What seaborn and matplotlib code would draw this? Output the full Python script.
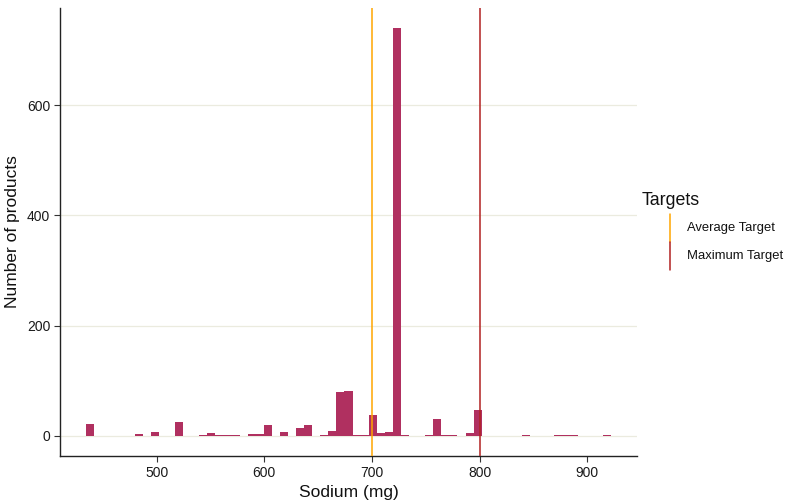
import numpy as np
import pandas as pd
import matplotlib
matplotlib.use("Agg")
import matplotlib.pyplot as plt
from matplotlib.lines import Line2D
import seaborn as sns

# Histogram bins (sodium, mg): first left edge and width
bin_start = 434.5
bin_width = 7.5
n_bins = 65

# Number of products per bin (bin index -> count)
bin_index = [0, 6, 8, 11, 14, 15, 16, 17, 18, 20, 21, 22, 24, 26, 27, 29, 30,
             31, 32, 33, 34, 35, 36, 37, 38, 39, 42, 43, 44, 45, 47, 48, 54,
             58, 59, 60, 64]
bin_count = [22, 3, 6, 25, 1, 4, 1, 2, 2, 3, 3, 19, 6, 14, 20, 1, 9,
             79, 82, 2, 2, 38, 4, 6, 740, 2, 2, 30, 2, 1, 5, 46, 1,
             2, 1, 1, 1]

# Reference lines
legend_title = "Targets"
target_names = ["Average Target", "Maximum Target"]
target_values = [700, 800]
target_colors = ["#FFA500", "#B22222"]

x_ticks = [500, 600, 700, 800, 900]
y_ticks = [0, 200, 400, 600]

W, H = 788, 501

bin_end = bin_start + bin_width * n_bins
centers = bin_start + bin_width * (np.array(bin_index) + 0.5)
df = pd.DataFrame({"sodium": centers, "count": bin_count})

sns.set_theme(style="white")
plt.rcParams["font.family"] = ["Liberation Sans", "DejaVu Sans"]

fig = plt.figure(figsize=(W / 100, H / 100), dpi=100)
ax = fig.add_axes([60 / W, 45 / H, 577 / W, 448 / H])

for y in y_ticks:
    ax.axhline(y, color="#EBEBDF", linewidth=0.9, zorder=0)

sns.histplot(data=df, x="sodium", weights="count", binwidth=bin_width,
             binrange=(bin_start, bin_end), ax=ax,
             color="#B03060", alpha=1, edgecolor="none", linewidth=0, zorder=2)

for val, col in zip(target_values, target_colors):
    ax.axvline(val, color=col, linewidth=1.1, zorder=3)

span = bin_end - bin_start
ax.set_xlim(bin_start - 0.05 * span, bin_end + 0.05 * span)
ymax = max(bin_count)
ax.set_ylim(-0.05 * ymax, ymax * 1.05)

ax.set_xticks(x_ticks)
ax.set_yticks(y_ticks)
ax.tick_params(axis="both", which="both", direction="out", length=4, width=0.8,
               color="#333333", labelsize=10, labelcolor="#1a1a1a", pad=3,
               bottom=True, left=True)
for side in ["top", "right"]:
    ax.spines[side].set_visible(False)
for side in ["left", "bottom"]:
    ax.spines[side].set_color("#222222")
    ax.spines[side].set_linewidth(1.0)

ax.set_xlabel("Sodium (mg)", fontsize=12.5, color="#111111", labelpad=4)
ax.set_ylabel("Number of products", fontsize=12.5, color="#111111", labelpad=5)

# Legend for the reference lines, with vertical keys
fig.text(642 / W, 1 - 201 / H, legend_title, fontsize=12.8, color="#111111",
         ha="left", va="center")
row_y = [228, 256]
for name, col, yc in zip(target_names, target_colors, row_y):
    fig.text(687 / W, 1 - yc / H, name, fontsize=9.4, color="#111111",
             ha="left", va="center")
    fig.add_artist(Line2D([670 / W, 670 / W], [1 - (yc - 14) / H, 1 - (yc + 14) / H],
                          color=col, linewidth=1.1, transform=fig.transFigure))

fig.savefig("out.png", dpi=100)
